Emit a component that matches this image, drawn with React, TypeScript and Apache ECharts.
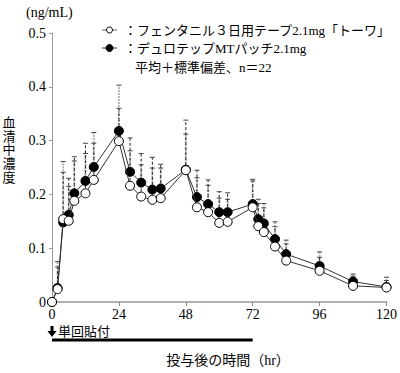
import React, { useEffect, useRef } from "react";
import * as echarts from "echarts";

const times = [0, 2, 4, 6, 8, 12, 15, 24, 28, 32, 36, 39, 48, 52, 56, 60, 63, 72, 74, 76, 80, 84, 96, 108, 120];
const towaMean = [0, 0.024, 0.154, 0.151, 0.188, 0.202, 0.227, 0.299, 0.216, 0.196, 0.19, 0.193, 0.245, 0.176, 0.167, 0.147, 0.149, 0.176, 0.141, 0.13, 0.103, 0.077, 0.058, 0.03, 0.027];
const durotepMean = [0, 0.026, 0.148, 0.162, 0.202, 0.225, 0.251, 0.318, 0.242, 0.222, 0.209, 0.211, 0.246, 0.195, 0.182, 0.167, 0.167, 0.182, 0.154, 0.146, 0.117, 0.089, 0.067, 0.038, 0.028];
const towaUpper = [0, 0.065, 0.241, 0.23, 0.27, 0.295, 0.295, 0.36, 0.305, 0.276, 0.269, 0.256, 0.338, 0.245, 0.227, 0.205, 0.203, 0.225, 0.183, 0.175, 0.14, 0.108, 0.083, 0.048, 0.04];
const durotepUpper = [0, 0.075, 0.261, 0.215, 0.262, 0.276, 0.315, 0.403, 0.281, 0.255, 0.249, 0.249, 0.312, 0.231, 0.217, 0.193, 0.191, 0.228, 0.191, 0.183, 0.149, 0.115, 0.093, 0.052, 0.046];
const xTicks = [0, 24, 48, 72, 96, 120];
const applyPeriod = [0, 72];

const towaName = "：フェンタニル３日用テープ2.1mg「トーワ」";
const durotepName = "：デュロテップMTパッチ2.1mg";
const noteText = "平均＋標準偏差、n＝22";
const yTitle = "血清中濃度";
const yUnit = "(ng/mL)";
const xTitle = "投与後の時間（hr）";
const applyLabel = "単回貼付";

const FONT = "'Liberation Serif', 'Noto Sans CJK JP', serif";

function errSeries(mean: number[], upper: number[], color: string, width: number, dash: number[], z: number) {
  return {
    type: "custom",
    z,
    silent: true,
    data: times.map((t, i) => [t, mean[i], upper[i]]),
    encode: { x: 0, y: [1, 2] },
    renderItem: (_p: any, api: any) => {
      const x = api.value(0);
      const m = api.value(1);
      const u = api.value(2);
      if (u - m <= 0) return { type: "group", children: [] };
      const p0 = api.coord([x, m]);
      const p1 = api.coord([x, u]);
      return {
        type: "group",
        children: [
          {
            type: "line",
            shape: { x1: p0[0], y1: p0[1], x2: p1[0], y2: p1[1] },
            style: { stroke: color, lineWidth: width, lineDash: dash },
          },
          {
            type: "line",
            shape: { x1: p1[0] - 2.5, y1: p1[1], x2: p1[0] + 2.5, y2: p1[1] },
            style: { stroke: "#444", lineWidth: 1 },
          },
        ],
      };
    },
  };
}

export default function App() {
  const ref = useRef<HTMLDivElement>(null);
  useEffect(() => {
    if (!ref.current) return;
    const chart = echarts.init(ref.current, undefined, { renderer: "svg" });
    const option: any = {
      animation: false,
      grid: { left: 52, right: 11, top: 33, bottom: 71 },
      xAxis: {
        type: "value",
        min: 0,
        max: 120,
        interval: 24,
        axisLine: { lineStyle: { color: "#b0b0b0", width: 2 } },
        axisTick: { show: true, length: 4, inside: false, lineStyle: { color: "#888" } },
        axisLabel: {
          color: "#000",
          fontSize: 14,
          fontFamily: FONT,
          margin: 5,
          customValues: xTicks,
        },
        splitLine: { show: false },
      },
      yAxis: {
        type: "value",
        min: 0,
        max: 0.5,
        interval: 0.1,
        axisLine: { show: true, lineStyle: { color: "#999", width: 1 } },
        axisTick: { show: true, length: 3, lineStyle: { color: "#999" } },
        axisLabel: {
          color: "#000",
          fontSize: 14,
          fontFamily: FONT,
          margin: 6,
          formatter: (v: number) => (v === 0 ? "0" : v.toFixed(1)),
        },
        splitLine: { show: false },
      },
      series: [
        errSeries(durotepMean, durotepUpper, "#b4b4b4", 2, [2, 1], 1),
        errSeries(towaMean, towaUpper, "#222", 1, [3, 2], 2),
        {
          type: "line",
          name: "durotep",
          z: 3,
          data: times.map((t, i) => [t, durotepMean[i]]),
          symbol: "circle",
          symbolSize: 9,
          lineStyle: { color: "#333", width: 1 },
          itemStyle: { color: "#000", borderColor: "#000", borderWidth: 1 },
        },
        {
          type: "line",
          name: "towa",
          z: 4,
          data: times.map((t, i) => [t, towaMean[i]]),
          symbol: "circle",
          symbolSize: 9,
          lineStyle: { color: "#333", width: 1 },
          itemStyle: { color: "#fff", borderColor: "#000", borderWidth: 1 },
        },
      ],
    };
    chart.setOption(option);

    const pA = chart.convertToPixel({ gridIndex: 0 }, [applyPeriod[0], 0]) as number[];
    const pB = chart.convertToPixel({ gridIndex: 0 }, [applyPeriod[1], 0]) as number[];
    const ax = pA[0];

    const yTitleChars = yTitle.split("").map((ch, i) => ({
      type: "text",
      x: 9,
      y: 122.5 + i * 13.7,
      style: { text: ch, font: `13px ${FONT}`, fill: "#000", align: "center", verticalAlign: "middle" },
    }));

    chart.setOption({
      graphic: [
        { type: "text", left: 26, top: 5, style: { text: yUnit, font: `14px ${FONT}`, fill: "#000" } },
        ...yTitleChars,
        // legend row 1
        { type: "line", shape: { x1: 102, y1: 30, x2: 117, y2: 30 }, style: { stroke: "#666", lineWidth: 1 } },
        { type: "circle", shape: { cx: 109.5, cy: 30, r: 3 }, style: { fill: "#fff", stroke: "#000", lineWidth: 1 } },
        {
          type: "text",
          x: 124,
          y: 30,
          style: { text: towaName, font: `13px ${FONT}`, fill: "#000", verticalAlign: "middle" },
        },
        // legend row 2
        { type: "line", shape: { x1: 102, y1: 48, x2: 117, y2: 48 }, style: { stroke: "#999", lineWidth: 2 } },
        { type: "circle", shape: { cx: 109.5, cy: 48, r: 3.5 }, style: { fill: "#000", stroke: "#000", lineWidth: 1 } },
        {
          type: "text",
          x: 124,
          y: 48,
          style: { text: durotepName, font: `13px ${FONT}`, fill: "#000", verticalAlign: "middle" },
        },
        {
          type: "text",
          x: 135,
          y: 67,
          style: { text: noteText, font: `13px ${FONT}`, fill: "#000", verticalAlign: "middle" },
        },
        // application arrow
        {
          type: "polygon",
          shape: {
            points: [
              [ax - 1.5, 326],
              [ax + 1.5, 326],
              [ax + 1.5, 331],
              [ax + 4.5, 331],
              [ax, 337],
              [ax - 4.5, 331],
              [ax - 1.5, 331],
            ],
          },
          style: { fill: "#000" },
        },
        {
          type: "text",
          x: ax + 6,
          y: 331,
          style: { text: applyLabel, font: `13px ${FONT}`, fill: "#000", verticalAlign: "middle" },
        },
        {
          type: "line",
          shape: { x1: pA[0], y1: 340, x2: pB[0], y2: 340 },
          style: { stroke: "#000", lineWidth: 3 },
        },
        {
          type: "text",
          x: 228,
          y: 360,
          style: { text: xTitle, font: `14px ${FONT}`, fill: "#000", align: "center", verticalAlign: "middle" },
        },
      ],
    });
    return () => chart.dispose();
  }, []);
  return (
    <div
      ref={ref}
      style={{ position: "fixed", left: 0, top: 0, width: 400, height: 373, background: "#fff" }}
    />
  );
}
